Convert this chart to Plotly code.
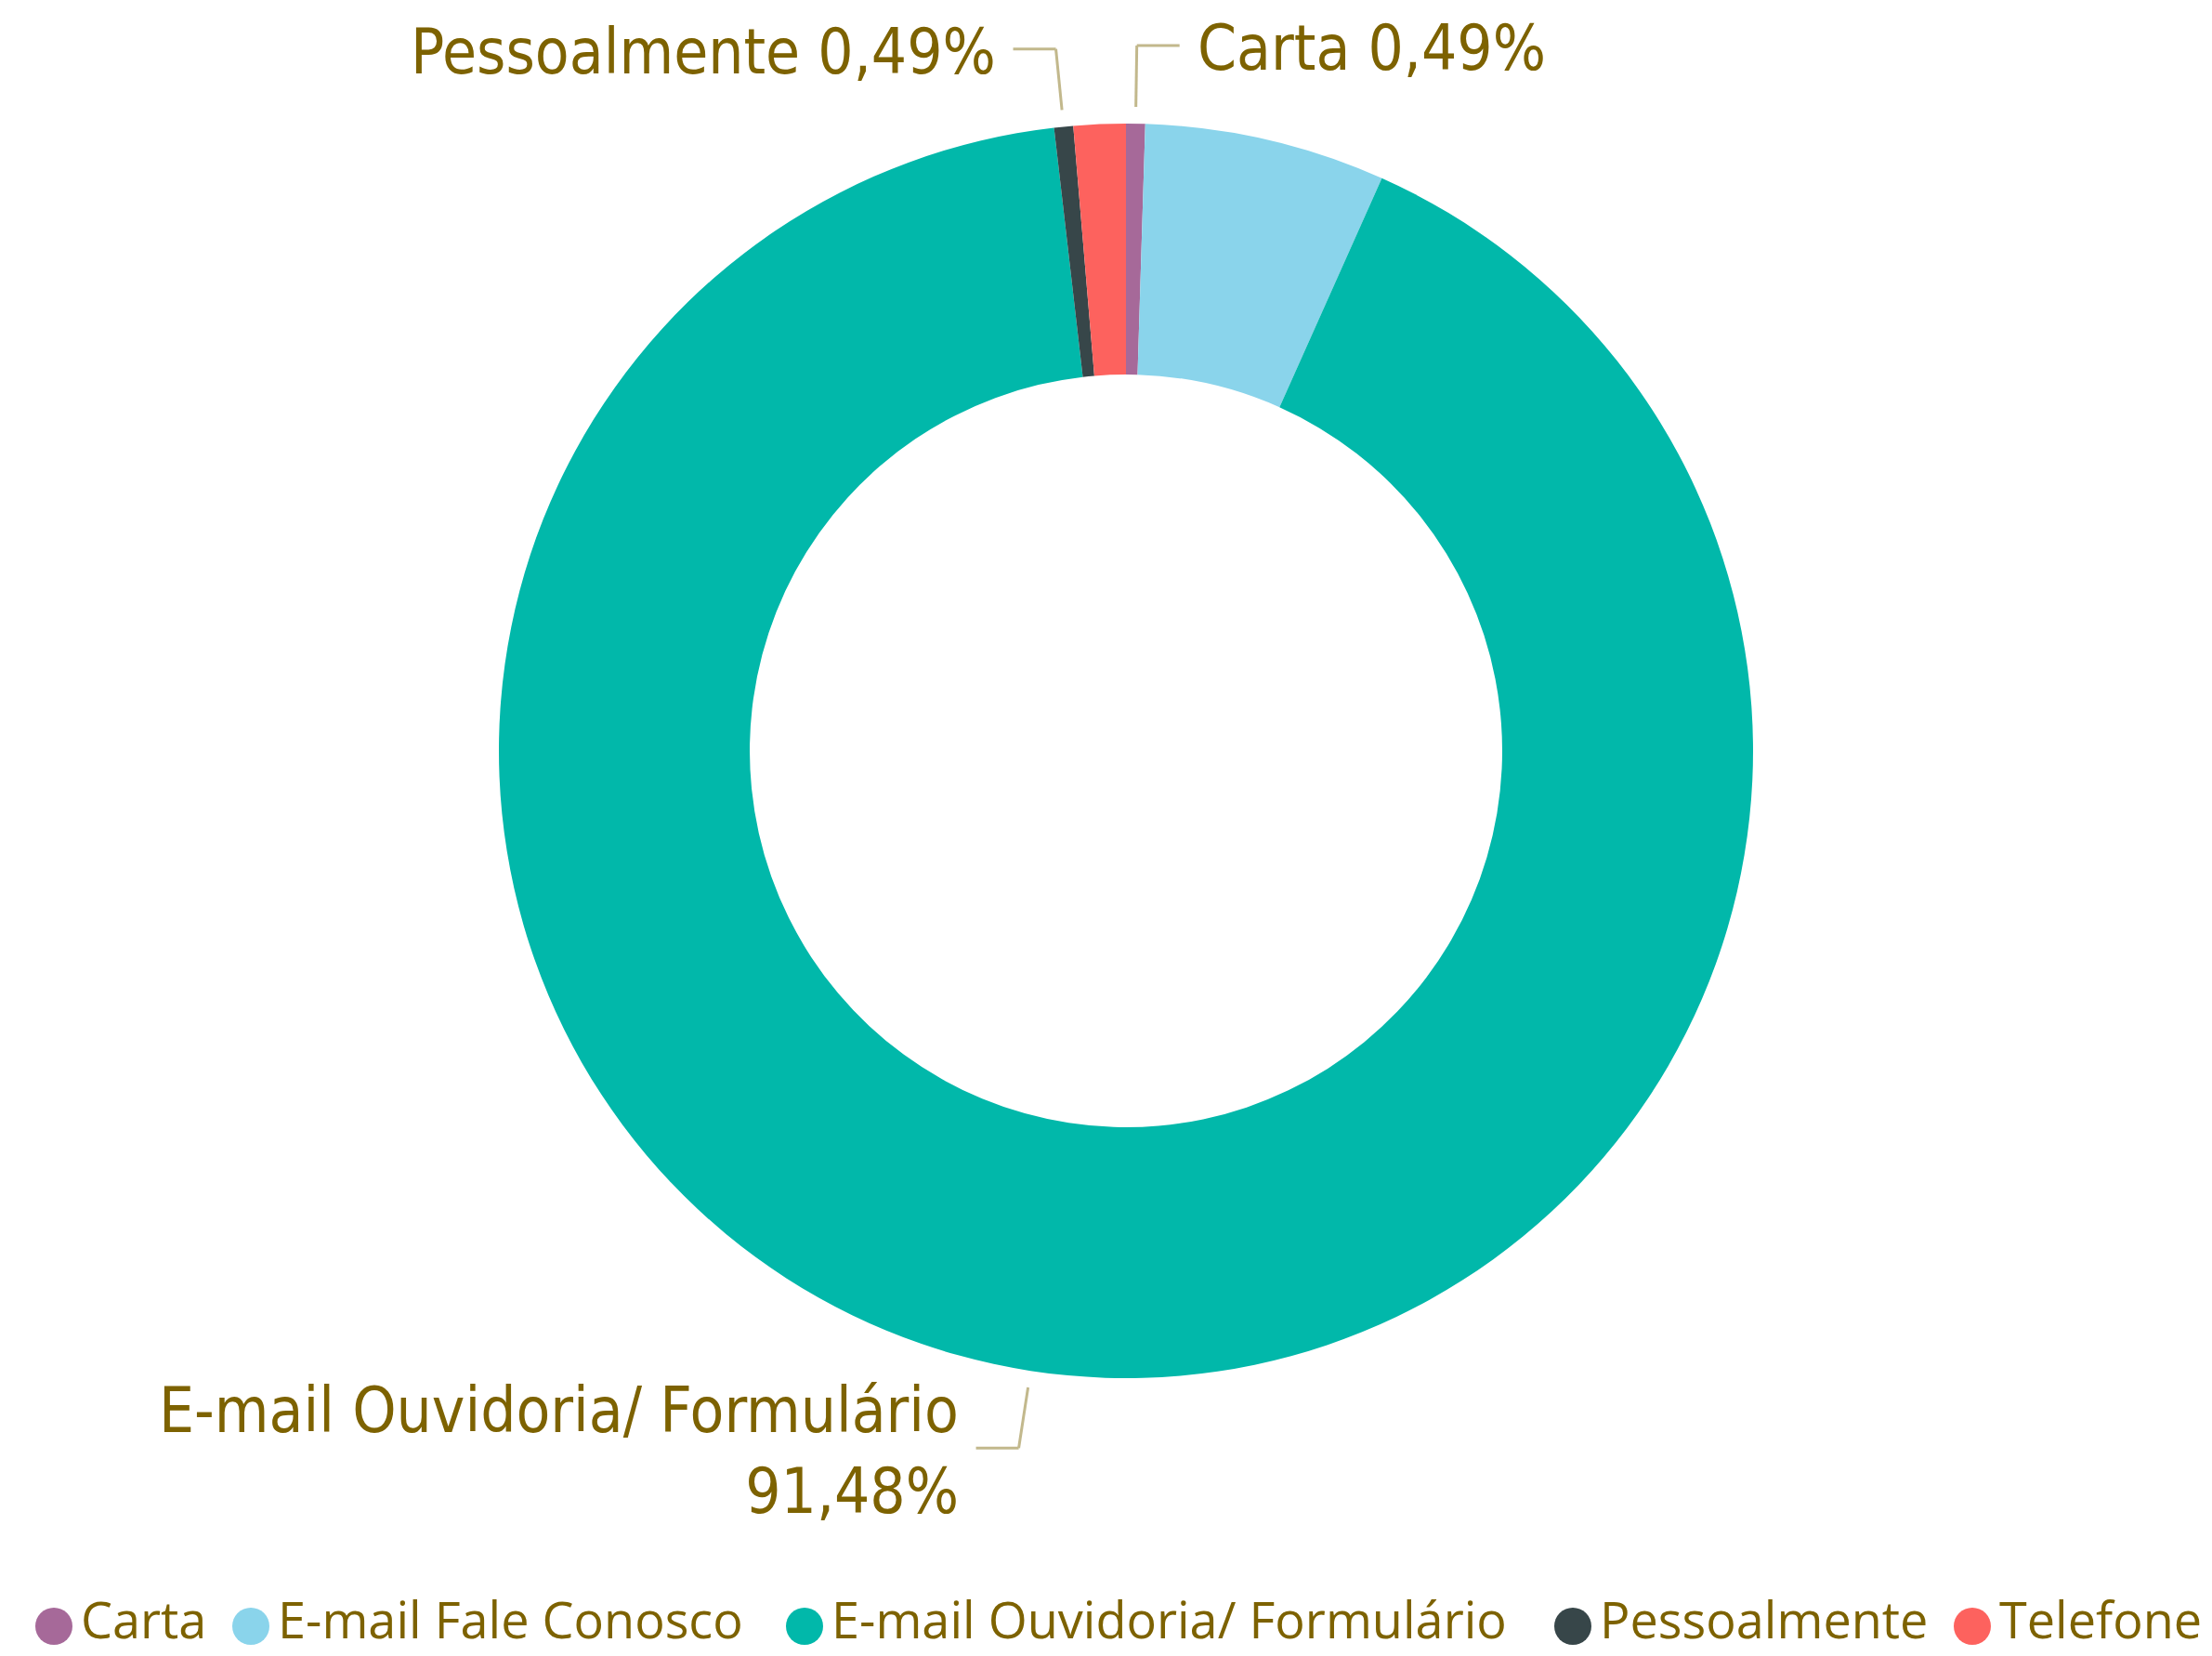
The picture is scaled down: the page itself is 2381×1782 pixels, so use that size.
import math
import plotly.graph_objects as go

# ---- data ----
categories = ["Carta", "E-mail Fale Conosco", "E-mail Ouvidoria/ Formulário", "Pessoalmente", "Telefone"]
values = [0.49, 6.20, 91.48, 0.49, 1.34]
colors = ["#A66999", "#8AD4EB", "#01B8AA", "#374649", "#FD625E"]
labeled = ["Carta", "E-mail Ouvidoria/ Formulário", "Pessoalmente"]

# ---- layout constants ----
W, H = 2381, 1782
cx, cy, R = 1212, 808, 675
TXT = "#7D6200"
LINE = "#C2B88C"
LABEL_FONT = "Liberation Sans Narrow, DejaVu Sans Condensed, Arial Narrow, sans-serif"
LEGEND_FONT = "Open Sans, Noto Sans, sans-serif"


def px(x):
    return x / W


def py(y):
    return 1 - y / H


fig = go.Figure()
fig.add_trace(go.Pie(
    labels=categories,
    values=values,
    marker=dict(colors=colors, line=dict(width=0)),
    hole=0.6,
    sort=False,
    direction="clockwise",
    rotation=0,
    textinfo="none",
    showlegend=False,
    domain=dict(x=[px(cx - R), px(cx + R)], y=[py(cy + R), py(cy - R)]),
))

total = sum(values)
shapes = []
annotations = []
cum = 0.0
for cat, v in zip(categories, values):
    mid = (cum + v / 2) / total * 2 * math.pi
    cum += v
    if cat not in labeled:
        continue
    s, c = math.sin(mid), math.cos(mid)
    x1, y1 = cx + (R + 18) * s, cy - (R + 18) * c
    x2, y2 = cx + (R + 84) * s, cy - (R + 84) * c
    side = 1 if s >= 0 else -1
    x3 = x2 + side * 46
    for (a, b, d, e) in [(x1, y1, x2, y2), (x2, y2, x3, y2)]:
        shapes.append(dict(type="line", xref="paper", yref="paper",
                           x0=px(a), y0=py(b), x1=px(d), y1=py(e),
                           line=dict(color=LINE, width=3)))
    pct = f"{v / total * 100:.2f}".replace(".", ",") + "%"
    text = f"{cat}<br>{pct}" if len(cat) > 20 else f"{cat} {pct}"
    annotations.append(dict(
        x=px(x3 + side * 17), y=py(y2 + 3), xref="paper", yref="paper",
        text=text, showarrow=False,
        xanchor="left" if side > 0 else "right", yanchor="middle",
        align="left" if side > 0 else "right",
        font=dict(family=LABEL_FONT, size=67, color=TXT),
    ))

# ---- legend (circle markers) ----
legend_circle_x = [58, 270, 866, 1693, 2123]
legend_y = 1750
for cat, col, lx in zip(categories, colors, legend_circle_x):
    shapes.append(dict(type="circle", xref="paper", yref="paper",
                       x0=px(lx - 20), x1=px(lx + 20), y0=py(legend_y - 20), y1=py(legend_y + 20),
                       fillcolor=col, line=dict(width=0)))
    annotations.append(dict(
        x=px(lx + 28), y=py(legend_y - 8), xref="paper", yref="paper",
        text=cat, showarrow=False, xanchor="left", yanchor="middle",
        borderpad=0,
        font=dict(family=LEGEND_FONT, size=54, color=TXT),
    ))

fig.update_layout(
    width=W, height=H,
    margin=dict(l=0, r=0, t=0, b=0),
    paper_bgcolor="white", plot_bgcolor="white",
    shapes=shapes, annotations=annotations,
    showlegend=False,
)

fig.write_html("out.html", config={"displayModeBar": False},
               post_script="document.body.style.margin='0';document.body.style.overflow='hidden';")
